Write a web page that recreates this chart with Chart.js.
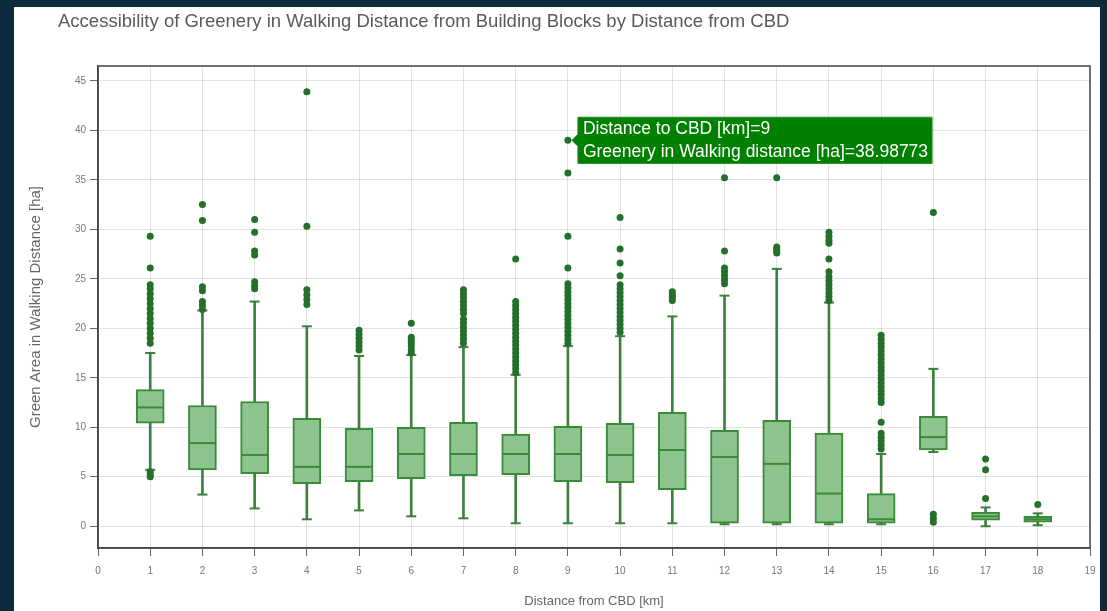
<!DOCTYPE html>
<html><head><meta charset="utf-8">
<script src="https://cdn.jsdelivr.net/npm/chart.js@4"></script>
<style>
html,body{margin:0;padding:0;background:#0c2b3d;width:1107px;height:611px;overflow:hidden}
#panel{position:absolute;left:14px;top:7px;width:1086px;height:604px;background:#fff;overflow:visible}
#title{position:absolute;left:44px;top:3px;font:18.5px/21px "Liberation Sans",Arial,sans-serif;color:#5a5a5a;white-space:nowrap}
canvas{position:absolute;left:0;top:0}
</style></head><body>
<div id="panel"><canvas id="c" width="1091" height="604"></canvas>
<div id="title">Accessibility of Greenery in Walking Distance from Building Blocks by Distance from CBD</div></div>
<script>
const categories = [1,2,3,4,5,6,7,8,9,10,11,12,13,14,15,16,17,18];
const q1         = [10.4,5.7,5.3,4.3,4.5,4.8,5.1,5.2,4.5,4.4,3.7,0.3,0.3,0.3,0.3,7.7,0.6,0.4];
const medians    = [12.0,8.4,7.2,6.0,6.0,7.3,7.3,7.3,7.3,7.2,7.7,7.0,6.3,3.3,0.7,9.0,1.0,0.7];
const q3         = [13.8,12.2,12.6,10.9,9.9,10.0,10.5,9.3,10.1,10.4,11.5,9.7,10.7,9.4,3.3,11.1,1.4,1.0];
const whiskerLow = [5.7,3.2,1.8,0.7,1.6,1.0,0.8,0.3,0.3,0.3,0.3,0.2,0.2,0.2,0.2,7.5,0.0,0.1];
const whiskerHigh= [17.5,21.8,22.7,20.2,17.2,17.3,18.1,15.3,18.2,19.2,21.2,23.3,26.0,22.6,7.3,15.9,1.9,1.3];
const outliers = [
  [29.3,26.1,24.4,24.0,23.5,23.0,22.5,22.0,21.5,21.0,20.5,20.0,19.5,19.0,18.5,5.5,5.2,5.0],
  [32.5,30.9,24.2,23.8,22.7,22.3,21.9],
  [31.0,29.7,27.8,27.4,24.7,24.3,24.0],
  [43.9,30.3,23.9,23.4,22.9,22.4],
  [19.8,19.4,19.0,18.6,18.2,17.8],
  [20.5,19.1,18.8,18.5,18.2,17.8,17.5],
  [23.9,23.5,23.1,22.7,22.3,21.9,21.5,20.9,20.5,20.1,19.7,19.3,18.9,18.5],
  [27.0,22.7,22.3,21.9,21.5,21.1,20.7,20.3,19.9,19.5,19.1,18.7,18.3,17.9,17.5,17.1,16.7,16.3,15.9,15.5],
  [38.98773,35.7,29.3,26.1,24.5,24.1,23.7,23.3,22.9,22.5,22.1,21.7,21.3,20.9,20.5,20.1,19.7,19.3,18.9,18.5],
  [31.2,28.0,26.6,25.3,24.4,24.0,23.6,23.2,22.8,22.4,22.0,21.6,21.2,20.8,20.4,20.0,19.6],
  [23.7,23.4,23.1,22.8],
  [35.2,27.8,26.1,25.7,25.3,24.9,24.5],
  [35.2,28.2,28.0,27.8,27.6],
  [29.7,29.3,28.9,28.6,27.0,25.7,25.2,24.8,24.4,24.0,23.6,23.2,22.8],
  [19.3,18.9,18.5,18.1,17.7,17.3,16.9,16.5,16.1,15.7,15.3,14.9,14.5,14.1,13.7,13.3,12.9,12.5,10.5,9.4,9.0,8.6,8.2,7.8],
  [31.7,1.2,0.8,0.4],
  [6.8,5.7,2.8],
  [2.2]
];
const xTicks = [0,1,2,3,4,5,6,7,8,9,10,11,12,13,14,15,16,17,18,19];
const yTicks = [0,5,10,15,20,25,30,35,40,45];
const hoverPoint = {category:9, value:38.98773};
const xTitle = 'Distance from CBD [km]';
const yTitle = 'Green Area in Walking Distance [ha]';

const FONT = '"Liberation Sans", Arial, sans-serif';
const boxData  = categories.map((c,i)=>({x:c, y:[q1[i], q3[i]]}));
const lowData  = categories.map((c,i)=>({x:c, y:[whiskerLow[i], q1[i]]}));
const highData = categories.map((c,i)=>({x:c, y:[q3[i], whiskerHigh[i]]}));
const medData  = categories.map((c,i)=>({x:c, y:medians[i]}));
const capData  = categories.flatMap((c,i)=>[{x:c,y:whiskerLow[i]},{x:c,y:whiskerHigh[i]}]);
const outData  = categories.flatMap((c,i)=>outliers[i].map(v=>({x:c,y:v})));

const frame = {
  id:'frame',
  afterDatasetsDraw(chart){
    const a = chart.chartArea, ctx = chart.ctx;
    ctx.save(); ctx.strokeStyle='#444'; ctx.lineWidth=1.5;
    ctx.strokeRect(a.left, a.top, a.right-a.left, a.bottom-a.top);
    ctx.restore();
  }
};

const chart = new Chart(document.getElementById('c'), {
  type:'bar',
  data:{datasets:[
    {type:'bar', data:lowData, grouped:false, barThickness:2, backgroundColor:'#3d7f3d', borderWidth:0, order:6},
    {type:'bar', data:highData, grouped:false, barThickness:2, backgroundColor:'#3d7f3d', borderWidth:0, order:6},
    {type:'scatter', data:capData, pointStyle:'line', radius:5, borderWidth:2, borderColor:'#3d7f3d', order:5},
    {type:'bar', data:boxData, grouped:false, barThickness:28, backgroundColor:'#8dc48d', borderColor:'#3a8a3a', borderWidth:2, borderSkipped:false, order:4},
    {type:'scatter', data:medData, pointStyle:'line', radius:13, borderWidth:2, borderColor:'#3a8a3a', order:3},
    {type:'scatter', data:outData, pointStyle:'circle', radius:3.5, backgroundColor:'#24702a', borderColor:'#24702a', borderWidth:0, order:2}
  ]},
  options:{
    responsive:false, animation:false, devicePixelRatio:1, events:[],
    layout:{padding:{left:9,right:0,top:59,bottom:0}},
    plugins:{
      legend:{display:false},
      title:{display:false},
      tooltip:{
        enabled:true, backgroundColor:'#008000', borderColor:'#2a8f2a', borderWidth:1, cornerRadius:0,
        displayColors:false, xAlign:'left', yAlign:'center', caretSize:6, caretPadding:4,
        padding:{left:5,right:4,top:2,bottom:1}, bodyFont:{family:FONT,size:17.5,lineHeight:1.15}, bodyColor:'#fff', bodySpacing:3,
        callbacks:{
          title:()=>'',
          label:(ctx)=>['Distance to CBD [km]='+ctx.raw.x, 'Greenery in Walking distance [ha]='+ctx.raw.y]
        }
      }
    },
    scales:{
      x:{type:'linear', min:0, max:19, offset:false,
        afterBuildTicks:s=>{s.ticks = xTicks.map(v=>({value:v}));},
        afterFit:s=>{s.height=63; s.paddingLeft=0; s.paddingRight=0;},
        ticks:{font:{family:FONT,size:10}, color:'#777', padding:9, maxRotation:0, autoSkip:false},
        grid:{offset:false, color:'rgba(0,0,0,0.11)', tickLength:8, tickColor:'#666'},
        border:{color:'#444', width:1.5},
        title:{display:true, text:xTitle, font:{family:FONT,size:13}, color:'#666', padding:{top:0,bottom:2}}
      },
      y:{type:'linear', min:-2.2, max:46.5,
        afterBuildTicks:s=>{s.ticks = yTicks.map(v=>({value:v}));},
        afterFit:s=>{s.width=75;},
        ticks:{font:{family:FONT,size:10}, color:'#777', padding:4},
        grid:{color:'rgba(0,0,0,0.11)', tickLength:8, tickColor:'#666'},
        border:{color:'#444', width:1.5},
        title:{display:true, text:yTitle, font:{family:FONT,size:15}, color:'#666', padding:{top:4,bottom:4}}
      }
    }
  },
  plugins:[frame]
});
const OUT_IDX = 5;
const hi = outData.findIndex(p=>p.x===hoverPoint.category && p.y===hoverPoint.value);
chart.tooltip.setActiveElements([{datasetIndex:OUT_IDX, index:hi}], {x:0, y:0});
chart.update();
</script>
</body></html>
